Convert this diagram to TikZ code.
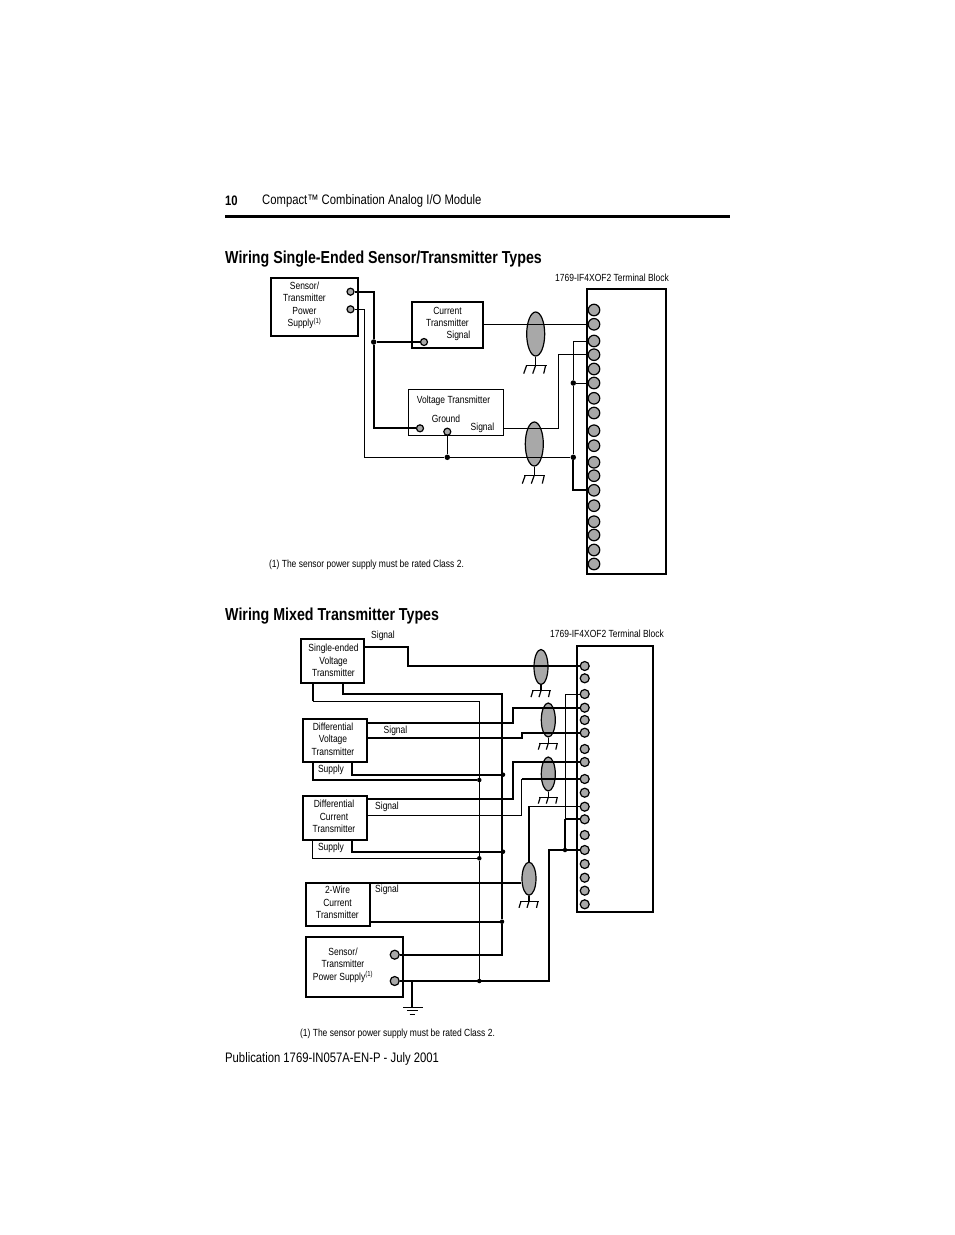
\documentclass[tikz,border=0pt]{standalone}
\usepackage{fontspec}
\setmainfont[FakeStretch=0.82]{Liberation Sans}
\usetikzlibrary{shapes.geometric}
\definecolor{termgray}{gray}{0.66}
\tikzset{
    lbl/.style={inner sep=0pt, align=center, font=\fontsize{10.35}{12.5}\selectfont}, % small labels
    heading/.style={inner sep=0pt, anchor=west, font=\fontsize{17.35}{20}\selectfont\bfseries},
    pagetext/.style={inner sep=0pt, anchor=west, font=\fontsize{13.75}{16}\selectfont},
    unitbox/.style={draw, line width=2pt, inner sep=0pt, outer sep=0pt},
    block/.style={draw, line width=2pt, inner sep=0pt, outer sep=0pt},
    termA/.style={circle, draw, fill=termgray, line width=1.2pt, inner sep=0pt, minimum size=11.5pt},
    termB/.style={circle, draw, fill=termgray, line width=1.2pt, inner sep=0pt, minimum size=9pt},
    shield/.style={ellipse, draw, fill=termgray, line width=1.2pt, inner sep=0pt},
    jdot/.style={circle, fill, inner sep=0pt, minimum size=5.5pt},
    wire/.style={line width=1pt},
    heavy/.style={line width=2pt},
    earthfork/.pic={
        \draw[line width=1.2pt] (0,0) -- (0,8.6);
        \draw[line width=1.2pt] (-10,8.6) -- (11,8.6);
        \draw[line width=1.2pt] (-9,8.6) -- (-12,17) (0,8.6) -- (-3,17) (10,8.6) -- (8,17);
    },
    smallfork/.pic={
        \draw[line width=1.2pt] (0,0) -- (0,5.5);
        \draw[line width=1.2pt] (-9,5.5) -- (10,5.5);
        \draw[line width=1.2pt] (-8,5.5) -- (-10,12) (0,5.5) -- (-2,12) (9,5.5) -- (7.5,12);
    }
}
\begin{document}
\begin{tikzpicture}[x=1pt, y=-1pt]
    \useasboundingbox (0,0) rectangle (954,1235);

    % page furniture
    \node[pagetext, font=\fontsize{13.75}{16}\selectfont\bfseries] (pageno) at (225,201) {10};
    \node[pagetext] (pagetitle) at (262,201) {Compact™ Combination Analog I/O Module};
    \draw[line width=3pt] (225,216) coordinate (ruleL) -- (730,216) coordinate (ruleR);
    \node[heading] (headA) at (225,259) {Wiring Single-Ended Sensor/Transmitter Types};
    \node[heading] (headB) at (225,616) {Wiring Mixed Transmitter Types};
    \node[pagetext] (pubno) at (225,1059) {Publication 1769-IN057A-EN-P - July 2001};

    % first diagram
    \node[block, minimum width=79.3pt, minimum height=285pt] (blockA) at (626.4,431.5) {};
    \node[lbl] (blockAname) at (612,278) {1769-IF4XOF2 Terminal Block};
    \foreach \y [count=\i] in {310,324.3,341,354.7,369,383,398.3,413,430.7,445.7,462.3,475.7,490.3,505.7,521.7,535,550,564}
        {\node[termA] (ta\i) at (594,\y) {};}

    \node[unitbox, minimum width=87.6pt, minimum height=58.3pt] (supplyA) at (314.5,306.8) {};
    \node[lbl] (supplyAname) at (304.5,305.5) {Sensor/\\Transmitter\\Power\\Supply\textsuperscript{(1)}};
    \node[termA, minimum size=7pt] (supplyA1) at (350.5,291.7) {};
    \node[termA, minimum size=7pt] (supplyA2) at (350.5,309.3) {};

    \node[unitbox, minimum width=71.3pt, minimum height=45.4pt] (curA) at (447.6,325) {};
    \node[lbl] (curAname) at (447.5,317) {Current\\Transmitter};
    \node[lbl] (curAsig) at (458.5,336) {Signal};
    \node[termA, minimum size=7pt] (curA1) at (424,342) {};

    \node[block, line width=1pt, minimum width=95pt, minimum height=46.4pt] (volA) at (455.8,412.5) {};
    \node[lbl] (volAname) at (453.5,401) {Voltage Transmitter};
    \node[lbl] (volAgnd) at (446,419) {Ground};
    \node[lbl] (volAsig) at (482.5,428) {Signal};
    \node[termA, minimum size=7pt] (volA1) at (420,428.3) {};
    \node[termA, minimum size=7pt] (volA2) at (447.3,431.7) {};

    \node[shield, minimum width=18pt, minimum height=44pt] (shieldA1) at (535.7,334) {};
    \node[shield, minimum width=18pt, minimum height=44pt] (shieldA2) at (534.3,444) {};
    \pic at (shieldA1.south) {earthfork};
    \pic at (shieldA2.south) {earthfork};

    \node[jdot] (jA1) at (373.7,342) {};
    \node[jdot] (jA2) at (447.3,457.3) {};
    \node[jdot] (jA3) at (573.3,383) {};
    \node[jdot] (jA4) at (573.3,457.3) {};

    \coordinate (curAout) at (curA.east |- ta2);
    \coordinate (volAout) at (503.3,428.3);
    \draw[heavy] (supplyA1) -| (jA1);
    \draw[heavy] (jA1) -- (curA1);
    \draw[heavy] (jA1) |- (volA1);
    \draw[wire] (supplyA2) -| (364.7,457.3) -- (jA2);
    \draw[wire] (volA2) -- (jA2);
    \draw[wire] (jA2) -- (jA4);
    \draw[wire] (curAout) -- (ta2);
    \draw[wire] (volAout) -| (558.3,354.7) -- (ta4);
    \draw[wire] (ta3) -| (jA3);
    \draw[wire] (jA3) -- (ta6);
    \draw[wire] (jA3) -- (jA4);
    \draw[heavy] (jA4) |- (ta13);
    \node[lbl] (noteA) at (366.5,565) {(1) The sensor power supply must be rated Class 2.};

    % second diagram
    \node[block, minimum width=76.6pt, minimum height=266pt] (blockB) at (615,778.7) {};
    \node[lbl] (blockBname) at (607,633.5) {1769-IF4XOF2 Terminal Block};
    \foreach \y [count=\i] in {666,678.3,694,707.7,720,732.7,749,762,779,792.7,806.7,819.3,835,850,864,877.7,890.7,904.3}
        {\node[termB] (tb\i) at (584.7,\y) {};}

    \node[unitbox, minimum width=63.3pt, minimum height=44.3pt] (sevB) at (332.4,661.2) {};
    \node[lbl] (sevBname) at (333.5,660.5) {Single-ended\\Voltage\\Transmitter};
    \node[lbl] (sevBsig) at (383,635.5) {Signal};
    \node[unitbox, minimum width=64.6pt, minimum height=43.3pt] (dvB) at (335,740.7) {};
    \node[lbl] (dvBname) at (333,739) {Differential\\Voltage\\Transmitter};
    \node[lbl] (dvBsig) at (395.5,731) {Signal};
    \node[lbl] (dvBsup) at (331,769.5) {Supply};
    \node[unitbox, minimum width=64.6pt, minimum height=44.3pt] (dcB) at (335,817.8) {};
    \node[lbl] (dcBname) at (334,816.5) {Differential\\Current\\Transmitter};
    \node[lbl] (dcBsig) at (387,807) {Signal};
    \node[lbl] (dcBsup) at (331,848) {Supply};
    \node[unitbox, minimum width=64pt, minimum height=43pt] (twB) at (338,904.2) {};
    \node[lbl] (twBname) at (337.5,902.5) {2-Wire\\Current\\Transmitter};
    \node[lbl] (twBsig) at (387,889.5) {Signal};
    \node[unitbox, minimum width=97.3pt, minimum height=60pt] (supplyB) at (354.7,967) {};
    \node[lbl] (supplyBname) at (343,965) {Sensor/\\Transmitter\\Power Supply\textsuperscript{(1)}};
    \node[termB] (supplyB1) at (394.7,954.7) {};
    \node[termB] (supplyB2) at (394.7,981) {};

    \node[shield, minimum width=14pt, minimum height=35pt] (shieldB1) at (541,667) {};
    \node[shield, minimum width=14pt, minimum height=34pt] (shieldB2) at (548.3,720) {};
    \node[shield, minimum width=14pt, minimum height=34pt] (shieldB3) at (548.3,774) {};
    \node[shield, minimum width=14pt, minimum height=33pt] (shieldB4) at (529,878.7) {};
    \pic at (shieldB1.south) {smallfork};
    \pic at (shieldB2.south) {smallfork};
    \pic at (shieldB3.south) {smallfork};
    \pic at (shieldB4.south) {smallfork};

    \node[jdot, minimum size=4.5pt] (jB1) at (479.3,780) {};
    \node[jdot, minimum size=4.5pt] (jB2) at (479.3,858.3) {};
    \node[jdot, minimum size=4.5pt] (jB3) at (479.3,981) {};
    \node[jdot, minimum size=4.5pt] (jB4) at (503,774.7) {};
    \node[jdot, minimum size=4.5pt] (jB5) at (503,851.7) {};
    \node[jdot, minimum size=4.5pt] (jB6) at (502,921.7) {};
    \node[jdot, minimum size=4.5pt] (jB7) at (565,850) {};
    \coordinate (jB8) at (565,819.3);
    \coordinate (gndB) at (412,1007);

    \draw[heavy] (sevB.east |- 0,646.7) -| (408,666) -- (tb1);
    \draw[heavy] (312.7,683.3) -- (312.7,701);
    \draw[wire] (312.7,701) -| (jB1);
    \draw[wire] (jB1) -- (jB2);
    \draw[wire] (jB2) -- (jB3);
    \draw[heavy] (343.3,683.3) |- (502,694) -- (jB6);
    \draw[heavy] (jB6) |- (supplyB1);

    \draw[heavy] (dvB.east |- 0,722.7) -| (512.7,707.7) -- (tb4);
    \draw[heavy] (dvB.east |- 0,737.7) -| (521.7,732.7) -- (tb6);
    \draw[heavy] (312.7,762.3) |- (jB1);
    \draw[heavy] (352.3,762.3) |- (jB4);

    \draw[heavy] (dcB.east |- 0,799.3) -| (512.7,762) -- (tb8);
    \draw[wire] (dcB.east |- 0,815) -| (521.7,779);
    \draw[heavy] (521.7,779) -- (tb9);
    \draw[wire] (312.7,840) |- (jB2);
    \draw[heavy] (352.3,840) |- (jB5);

    \draw[heavy] (twB.east |- 0,882.7) -- (shieldB4.west |- 0,882.7);
    \draw[heavy] (twB.east |- 0,921.7) -- (jB6);
    \draw[line width=1.4pt] (shieldB4.north) |- (tb11);

    \draw[wire] (tb3) -| (jB7);
    \draw[heavy] (jB8) -- (tb12);
    \draw[heavy] (jB8) -- (jB7);
    \draw[heavy] (supplyB2) -| (549,850) -- (tb14);
    \draw[heavy] (412,981) -- (gndB);
    \draw[wire] (403.3,1007) -- (422.7,1007);
    \draw[line width=1pt] (407,1010.5) -- (418,1010.5);
    \draw[line width=1.6pt] (409.5,1014.5) -- (415,1014.5);
    \node[lbl] (noteB) at (397.5,1033.5) {(1) The sensor power supply must be rated Class 2.};
\end{tikzpicture}
\end{document}
